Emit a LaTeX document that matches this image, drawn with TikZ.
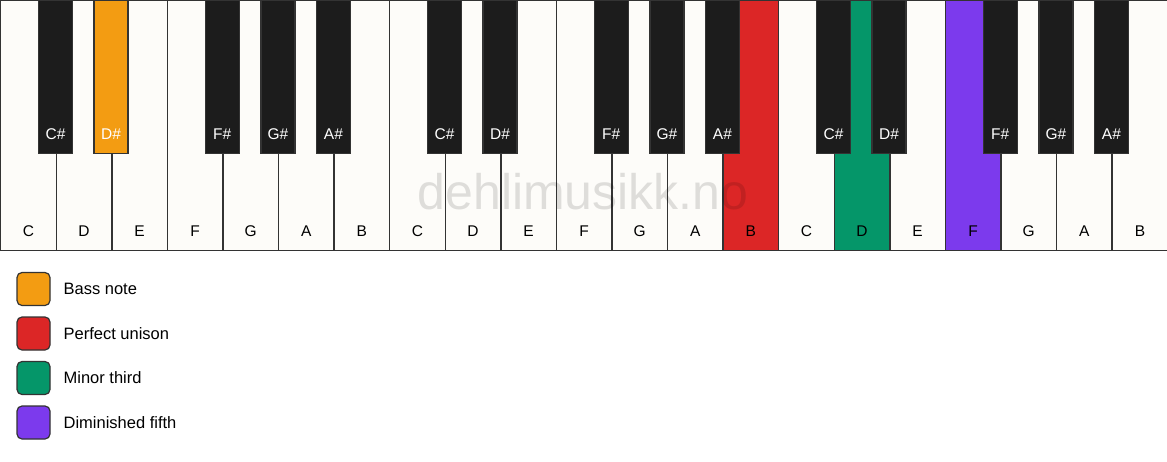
\documentclass[tikz,border=0pt]{standalone}
\usepackage{fontspec}
\setmainfont{Liberation Sans}
\usepackage{tikz}
\usetikzlibrary{positioning}
\definecolor{keywhite}{HTML}{FDFCF9}
\definecolor{keyblack}{HTML}{1C1C1C}
\definecolor{keyline}{HTML}{333333}
\definecolor{intorange}{HTML}{F39C12}
\definecolor{intred}{HTML}{DC2626}
\definecolor{intgreen}{HTML}{059669}
\definecolor{intpurple}{HTML}{7C3AED}

\begin{document}
\begin{tikzpicture}[x=1pt,y=-1pt]
\tikzstyle{whitekey}=[draw=keyline, line width=1.4pt, minimum width=55.571pt, minimum height=250pt, anchor=north west, inner sep=0pt]
\tikzstyle{blackkey}=[draw=keyline, line width=1.4pt, minimum width=34pt, minimum height=153pt, anchor=north, inner sep=0pt]
\tikzstyle{keylabel}=[font=\fontsize{15.5}{18}\selectfont, inner sep=0pt]
\tikzstyle{swatch}=[draw=keyline, line width=1.2pt, rounded corners=5pt, minimum size=33pt, inner sep=0pt]
\tikzstyle{legendtext}=[font=\fontsize{16.5}{19}\selectfont, inner sep=0pt]

\fill[white] (0,0) rectangle (1167,461);
\useasboundingbox (0,0) rectangle (1167,461);

% white keys
\foreach \n/\c [count=\i from 0] in {C/keywhite,D/keywhite,E/keywhite,F/keywhite,G/keywhite,A/keywhite,B/keywhite,
    C/keywhite,D/keywhite,E/keywhite,F/keywhite,G/keywhite,A/keywhite,B/intred,
    C/keywhite,D/intgreen,E/keywhite,F/intpurple,G/keywhite,A/keywhite,B/keywhite} {
  \node[whitekey, fill=\c] (w\i) at (\i*55.571,0) {};
  \node[keylabel] (wl\i) at ([yshift=20pt]w\i.south) {\n};
}

\node[font=\fontsize{50}{58}\selectfont, text=black, opacity=0.12] (mark) at (583,192) {dehlimusikk.no};

% black keys
\foreach \o in {0,1,2} {
  \foreach \k/\n in {1/C,2/D,4/F,5/G,6/A} {
    \def\kc{keyblack}
    \ifnum\o=0 \ifnum\k=2 \def\kc{intorange}\fi\fi
    \node[blackkey, fill=\kc] (b\o\k) at ({(7*\o+\k)*55.571},0) {};
    \node[keylabel, text=white] (bl\o\k) at ([yshift=20pt]b\o\k.south) {\n\#};
  }
}

% legend
\node[swatch, fill=intorange] (s1) at (33.5,289) {};
\node[swatch, fill=intred, below=10.3pt of s1] (s2) {};
\node[swatch, fill=intgreen, below=10.3pt of s2] (s3) {};
\node[swatch, fill=intpurple, below=10.3pt of s3] (s4) {};
\node[legendtext, right=12.8pt of s1] (t1) {Bass note};
\node[legendtext, right=12.8pt of s2] (t2) {Perfect unison};
\node[legendtext, right=12.8pt of s3] (t3) {Minor third};
\node[legendtext, right=12.8pt of s4] (t4) {Diminished fifth};

\end{tikzpicture}
\end{document}
